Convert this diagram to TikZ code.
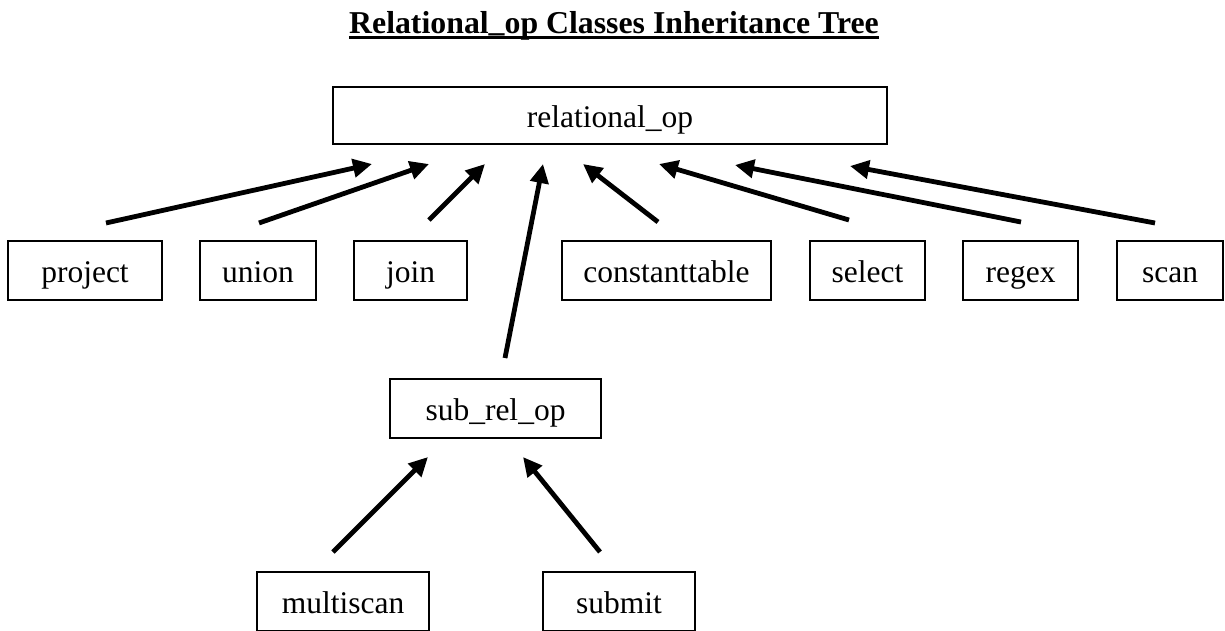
\documentclass[tikz,border=0pt]{standalone}
\usepackage{fontspec}
\setmainfont{Liberation Serif}
\usetikzlibrary{arrows.meta,calc}
\begin{document}
\begin{tikzpicture}[x=1pt,y=-1pt,
  classbox/.style={draw, line width=1.4pt, inner sep=0pt,
    font=\fontsize{31.5}{36}\selectfont, text height=30pt, text depth=7pt},
  inherit/.style={line width=4.8pt, -{Triangle[length=19pt,width=18pt]}}]
\useasboundingbox (0,0) rectangle (1225,630);

% title
\node[anchor=base, inner sep=0pt, font=\fontsize{31.8}{36}\selectfont\bfseries]
  (title) at (614,33) {Relational\raisebox{2pt}{\_}op Classes Inheritance Tree};
\draw[line width=2.8pt] ($(title.base west)+(0,4.6)$) -- ($(title.base east)+(0,4.6)$);

% classes
\node[classbox, minimum width=554pt, minimum height=57pt] (rel) at (610,115.5) {relational\_op};
\node[classbox, minimum width=154pt, minimum height=59pt] (project) at (85,270.5) {project};
\node[classbox, minimum width=116pt, minimum height=59pt] (union) at (258,270.5) {union};
\node[classbox, minimum width=113pt, minimum height=59pt] (join) at (410.5,270.5) {join};
\node[classbox, minimum width=209pt, minimum height=59pt] (const) at (666.5,270.5) {constanttable};
\node[classbox, minimum width=115pt, minimum height=59pt] (select) at (867.5,270.5) {select};
\node[classbox, minimum width=115pt, minimum height=59pt] (regex) at (1020.5,270.5) {regex};
\node[classbox, minimum width=106pt, minimum height=59pt] (scan) at (1170,270.5) {scan};
\node[classbox, minimum width=211pt, minimum height=59pt] (subrel) at (495.5,408.5) {sub\_rel\_op};
\node[classbox, minimum width=172pt, minimum height=59pt] (multiscan) at (343,601.5) {multiscan};
\node[classbox, minimum width=152pt, minimum height=59pt] (submit) at (619,601.5) {submit};

% arrow ends (the arrows float between the boxes)
\coordinate (project-t) at (106,223);  \coordinate (project-h) at (372,164);
\coordinate (union-t)   at (259,223);  \coordinate (union-h)   at (429,164);
\coordinate (join-t)    at (429,220);  \coordinate (join-h)    at (485,164);
\coordinate (subrel-t)  at (505,358);  \coordinate (subrel-h)  at (543,164);
\coordinate (const-t)   at (658,222);  \coordinate (const-h)   at (583,164);
\coordinate (select-t)  at (849,220);  \coordinate (select-h)  at (659,164);
\coordinate (regex-t)   at (1021,222); \coordinate (regex-h)   at (735,165);
\coordinate (scan-t)    at (1155,223); \coordinate (scan-h)    at (850,166);
\coordinate (multi-t)   at (333,552);  \coordinate (multi-h)   at (428,457);
\coordinate (submit-t)  at (600,552);  \coordinate (submit-h)  at (523,457);

\foreach \c in {project,union,join,subrel,const,select,regex,scan,multi,submit}
  \draw[inherit] (\c-t) -- (\c-h);
\end{tikzpicture}
\end{document}
